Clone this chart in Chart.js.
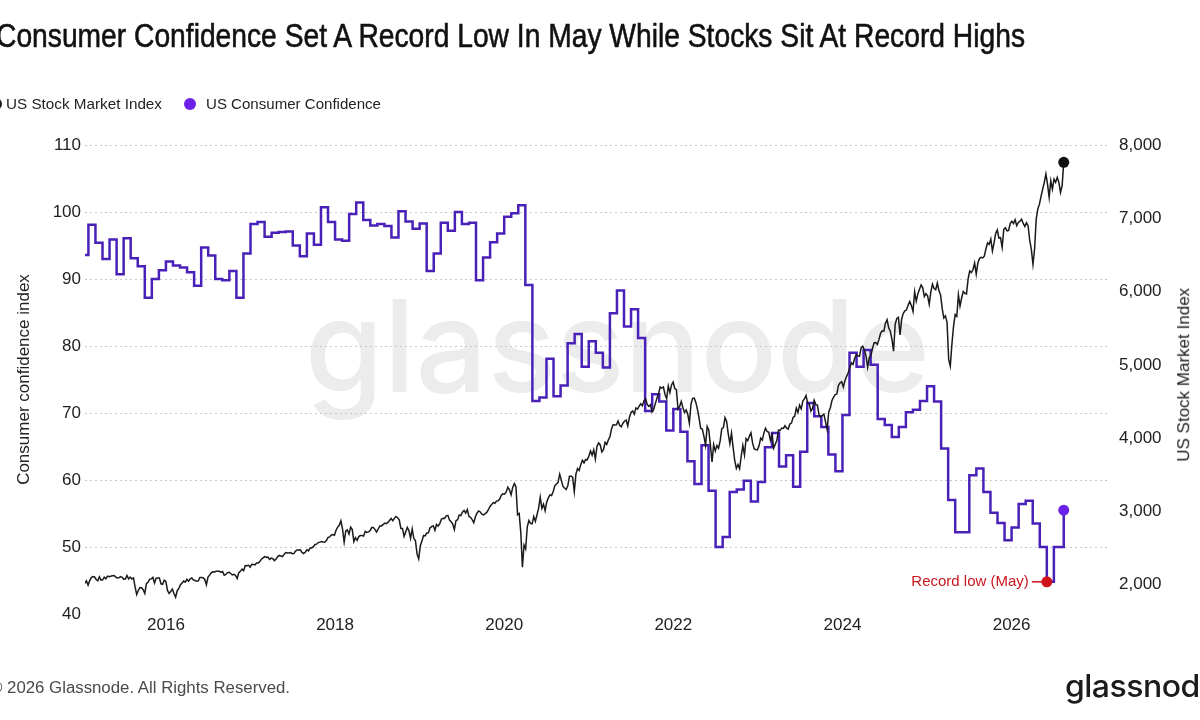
<!DOCTYPE html>
<html>
<head>
<meta charset="utf-8">
<title>Consumer Confidence vs US Stock Market Index</title>
<script src="https://cdn.jsdelivr.net/npm/chart.js@4.4.1/dist/chart.umd.min.js"></script>
<style>
  html, body { margin: 0; padding: 0; background: #ffffff; }
  #wrap { position: relative; width: 1200px; height: 720px; overflow: hidden; background: #ffffff;
          font-family: "Liberation Sans", Arial, sans-serif; }
  #chartBox { position: absolute; left: 0; top: 0; width: 1200px; height: 720px; }
  .txt { position: absolute; white-space: nowrap; line-height: 1.15; transform-origin: 0 0; }
  #title { left: -4px; font-size: 34px; color: #111111; font-family: "Liberation Sans", Arial, sans-serif;
           -webkit-text-stroke: 0.6px #111111; }
  .legTxt { font-size: 15px; color: #222222; }
  .dot { position: absolute; width: 12px; height: 12px; border-radius: 50%; }
  #footer { left: -10px; font-size: 16px; color: #4a4a4a; }
  #logo { left: 1065px; font-size: 31px; color: #1b1b1b; font-family: Inter, "Noto Sans", sans-serif; font-weight: 500; letter-spacing: -0.5px; }
  #rTitle { font-size: 17px; color: #222222; transform-origin: 50% 50%; }
</style>
</head>
<body>
<div id="wrap">
  <div id="chartBox"><canvas id="c"></canvas></div>
  <div id="title" class="txt">Consumer Confidence Set A Record Low In May While Stocks Sit At Record Highs</div>
  <div class="dot" style="left:-10px; top:98px; background:#1a1a1a;"></div>
  <div id="leg1" class="txt legTxt">US Stock Market Index</div>
  <div class="dot" style="left:184px; top:98px; background:#6a22e8;"></div>
  <div id="leg2" class="txt legTxt">US Consumer Confidence</div>
  <div id="rTitle" class="txt">US Stock Market Index</div>
  <div id="footer" class="txt">© 2026 Glassnode. All Rights Reserved.</div>
  <div id="logo" class="txt">glassnode</div>
</div>
<script>
// ---------------- DATA ----------------
// University of Michigan-style consumer confidence, monthly, Dec 2014 .. Jul 2026
const consumerValues = [
  93.6,
  98.1, 95.4, 93.0, 95.9, 90.7, 96.1, 93.1, 91.9, 87.2, 90.0, 91.3, 92.6,   // 2015
  92.0, 91.7, 91.0, 89.0, 94.7, 93.5, 90.0, 89.8, 91.2, 87.2, 93.8, 98.2,   // 2016
  98.5, 96.3, 96.9, 97.0, 97.1, 95.0, 93.4, 96.8, 95.1, 100.7, 98.5, 95.9,  // 2017
  95.7, 99.7, 101.4, 98.8, 98.0, 98.2, 97.9, 96.2, 100.1, 98.6, 97.5, 98.3, // 2018
  91.2, 93.8, 98.4, 97.2, 100.0, 98.2, 98.4, 89.8, 93.2, 95.5, 96.8, 99.3,  // 2019
  99.8, 101.0, 89.1, 71.8, 72.3, 78.1, 72.5, 74.1, 80.4, 81.8, 76.9, 80.7,  // 2020
  79.0, 76.8, 84.9, 88.3, 82.9, 85.5, 81.2, 70.3, 72.8, 71.7, 67.4, 70.6,   // 2021
  67.2, 62.8, 59.4, 65.2, 58.4, 50.0, 51.5, 58.2, 58.6, 59.9, 56.8, 59.7,   // 2022
  64.9, 67.0, 62.0, 63.7, 59.0, 64.2, 71.5, 69.5, 67.9, 63.8, 61.3, 69.7,   // 2023
  79.0, 76.9, 79.4, 77.2, 69.1, 68.2, 66.4, 67.9, 70.1, 70.5, 71.8, 74.0,   // 2024
  71.7, 64.7, 57.0, 52.2, 52.2, 60.7, 61.7, 58.2, 55.1, 53.6, 51.0, 52.9,   // 2025
  56.4, 56.9, 53.5, 50.0, 44.8, 50.0, 55.5                                  // 2026
];
const consumerFirstDate = 2015.0;          // Dec 2014 reading, stamped at month end

// US stock market index, weekly (Fridays), from 16 Jan 2015
const stockFirstDate = 2015.041;
const stockValues = [
  // 2015
  2019,2051,1995, 2055,2097,2110,2105, 2071,2053,2108,2061, 2067,2102,2081,2117,
  2108,2116,2123,2126,2107, 2092,2094,2110,2101, 2076,2077,2126,2079,2104,
  2078,2092,1971,1867, 1921,1961,1958,1931, 1882,2014,2033,2075,2079,
  2099,2023,2089,2090, 2091,2012,2005,2060,
  // 2016
  2044,1922,1880,1907,1940, 1880,1829,1918,1948, 2000,2022,2050,2035,
  2073,2048,2081,2091,2065, 2057,2047,2052,2099, 2099,2096,2071,2000,
  2103,2130,2162,2175,2174, 2183,2184,2184,2169, 2180,2128,2139,2165,2168,
  2153,2133,2141,2126, 2085,2164,2182,2213, 2192,2260,2258,2264,2239,
  // 2017
  2277,2275,2271,2295, 2297,2316,2351,2367, 2384,2373,2378,2344,2363,
  2355,2329,2349,2384, 2399,2391,2382,2416, 2439,2432,2433,2438,2423,
  2425,2459,2473,2472, 2477,2441,2426,2443, 2477,2461,2500,2502,2519,
  2549,2553,2575,2581, 2588,2582,2579,2602, 2642,2652,2675,2683,2674,
  // 2018
  2743,2786,2810,2873, 2762,2581,2732,2747, 2691,2786,2752,2588,2641,
  2604,2656,2670,2670, 2663,2728,2713,2721, 2735,2779,2780,2755,2718,
  2760,2801,2802,2819, 2840,2833,2850,2875,2902, 2872,2905,2930,2914,
  2886,2767,2768,2659, 2723,2781,2736,2633,2760, 2633,2600,2417,2351,
  // 2019
  2532,2596,2671,2665, 2707,2708,2776,2793, 2804,2743,2822,2801,2834,
  2893,2907,2905,2940, 2946,2881,2860,2826,2752, 2873,2887,2950,2942,
  2990,3014,2977,3026, 2932,2919,2889,2847,2926, 2979,3007,2992,2962,
  2952,2970,2986,3023, 3067,3093,3120,3111,3141, 3146,3169,3221,3240,
  // 2020
  3235,3265,3330,3295,3225, 3328,3380,3338,2954, 2972,2711,2237,2541,
  2489,2790,2875,2837, 2831,2930,2864,2955,3044, 3194,3041,3098,3009,
  3130,3185,3224,3216,3271, 3351,3373,3397,3508, 3427,3341,3319,3298,
  3348,3477,3483,3465,3270, 3509,3585,3558,3638, 3699,3663,3709,3703,
  // 2021
  3756,3825,3768,3841,3714, 3887,3934,3907,3811, 3842,3943,3913,3975,
  4020,4129,4185,4180,4181, 4233,4174,4156,4204, 4230,4247,4166,4281,
  4352,4370,4327,4412,4395, 4437,4468,4442,4509, 4535,4459,4433,4455,
  4357,4391,4471,4545,4605, 4697,4683,4698,4595, 4538,4712,4620,4726,4766,
  // 2022
  4677,4662,4398,4432, 4500,4418,4349,4385, 4329,4204,4463,4543,
  4546,4488,4392,4272,4132, 4123,4023,3901,4158, 4109,3901,3675,3912,
  3825,3899,3863,3962,4130, 4145,4280,4228,4058, 3924,4067,3873,3693,3586,
  3640,3583,3753,3901, 3771,3993,3965,4026, 4072,3934,3852,3845,3840,
  // 2023
  3895,3999,3973,4071, 4136,4090,4079,3970, 4045,3862,3917,3971,4109,
  4105,4138,4133,4169, 4136,4124,4192,4205, 4282,4299,4410,4348,4450,
  4399,4505,4536,4582, 4478,4464,4370,4406, 4516,4457,4450,4320,4288,
  4308,4328,4224,4117, 4358,4415,4514,4559, 4595,4604,4719,4755,4770,
  // 2024
  4697,4784,4840,4891, 4959,5027,5006,5089, 5137,5124,5117,5234,5254,
  5204,5123,4967,5100, 5128,5223,5303,5305,5278, 5347,5432,5465,5460,
  5567,5615,5505,5459, 5346,5186,5554,5634,5648, 5408,5626,5703,5738,
  5751,5815,5864,5808, 5729,5996,5870,5969,6032, 6090,6051,5931,5971,
  // 2025
  5942,5827,5997,6101,6041, 6026,6115,6013,5955, 5770,5639,5668,5581,
  5074,4982,5283,5525, 5686,5660,5958,5802,5912, 6000,5977,5968,6173,
  6280,6260,6297,6389, 6238,6389,6450,6467,6460, 6482,6584,6664,6644,
  6716,6553,6664,6792,6840, 6729,6734,6603,6849, 6870,6827,6834,6930,
  // 2026
  6960,6930,6980,6900,6943, 6960,6988,6930,6888, 6940,6900,6700,6580,
  6373,6578,6988,7125, 7193,7300,7398,7490,7603, 7467,7285,7512,7398,
  7535,7490,7558,7490,7353, 7443,7763
];

// Axis ticks
const xTickYears   = [2016, 2018, 2020, 2022, 2024, 2026];
const leftTicks    = [40, 50, 60, 70, 80, 90, 100, 110];
const rightTicks   = [2000, 3000, 4000, 5000, 6000, 7000, 8000];
const recordLowText = 'Record low (May)';

// ---------------- BUILD POINTS ----------------
const WEEK = 7 / 365.25;
const stockPts = stockValues.map((v, i) => ({ x: stockFirstDate + i * WEEK, y: v }));
const latestDate = stockPts[stockPts.length - 1].x;
const consumerPts = consumerValues.map((v, k) => ({
  x: k === consumerValues.length - 1 ? latestDate : consumerFirstDate + k / 12,
  y: v
}));
let minIdx = 0;
consumerValues.forEach((v, i) => { if (v < consumerValues[minIdx]) minIdx = i; });

const FONT = "'Liberation Sans', Arial, sans-serif";
Chart.defaults.font.family = FONT;

const overlayPlugin = {
  id: 'overlay',
  beforeDraw(chart) {
    const ctx = chart.ctx;
    ctx.save();
    ctx.fillStyle = '#ececec';
    ctx.font = "500 128px Inter, Lato, 'Noto Sans', sans-serif";
    ctx.textBaseline = 'alphabetic';
    const txt = 'glassnode';
    const w = ctx.measureText(txt).width;
    const target = 625;
    ctx.translate(305, 392);
    ctx.scale(target / w, 1);
    ctx.fillText(txt, 0, 0);
    ctx.restore();
  },
  afterDatasetsDraw(chart) {
    const meta = chart.getDatasetMeta(4);
    const p = meta.data[0];
    if (!p) return;
    const ctx = chart.ctx;
    ctx.save();
    ctx.strokeStyle = '#c8161d';
    ctx.lineWidth = 1.5;
    ctx.beginPath();
    ctx.moveTo(p.x - 15, p.y);
    ctx.lineTo(p.x - 3, p.y);
    ctx.stroke();
    ctx.fillStyle = '#c8161d';
    ctx.font = "15px " + FONT;
    ctx.textAlign = 'right';
    ctx.textBaseline = 'middle';
    ctx.fillText(recordLowText, p.x - 18, p.y);
    ctx.restore();
  }
};

new Chart(document.getElementById('c'), {
  type: 'line',
  data: {
    datasets: [
      { label: 'US Stock Market Index', data: stockPts, yAxisID: 'yR',
        borderColor: '#1a1a1a', borderWidth: 1.5, pointRadius: 0, tension: 0, order: 0 },
      { label: 'US Consumer Confidence', data: consumerPts, yAxisID: 'yL',
        borderColor: '#4a21b8', borderWidth: 2.5, stepped: 'before', pointRadius: 0, order: 1 },
      { label: 'stock latest', data: [stockPts[stockPts.length - 1]], yAxisID: 'yR', showLine: false,
        pointRadius: 5.5, pointBackgroundColor: '#111111', pointBorderWidth: 0, order: -1 },
      { label: 'consumer latest', data: [consumerPts[consumerPts.length - 1]], yAxisID: 'yL', showLine: false,
        pointRadius: 5.5, pointBackgroundColor: '#6a22e8', pointBorderWidth: 0, order: -1 },
      { label: 'record low', data: [consumerPts[minIdx]], yAxisID: 'yL', showLine: false,
        pointRadius: 5.5, pointBackgroundColor: '#d0121b', pointBorderWidth: 0, order: -1 }
    ]
  },
  options: {
    responsive: true,
    maintainAspectRatio: false,
    animation: false,
    events: [],
    layout: { padding: { top: 145, left: 0, right: 0, bottom: 0 } },
    plugins: { legend: { display: false }, tooltip: { enabled: false }, title: { display: false } },
    scales: {
      x: {
        type: 'linear', min: 2015.043, max: 2027.14,
        afterBuildTicks: s => { s.ticks = xTickYears.map(v => ({ value: v })); },
        afterFit: s => { s.height = 106; },
        grid: { display: false, drawTicks: false },
        border: { display: false },
        ticks: { color: '#222222', font: { size: 17 }, padding: 1, maxRotation: 0, autoSkip: false,
                 callback: v => String(v) }
      },
      yL: {
        position: 'left', min: 40, max: 110,
        afterBuildTicks: s => { s.ticks = leftTicks.map(v => ({ value: v })); },
        afterFit: s => { s.width = 85; },
        grid: { drawTicks: false, lineWidth: 1,
                color: c => (c.tick && c.tick.value === 40) ? 'rgba(0,0,0,0)' : '#c8c8c8' },
        border: { display: false, dash: [2, 3] },
        ticks: { color: '#222222', font: { size: 17 }, padding: 4, callback: v => String(v) },
        title: { display: true, text: 'Consumer confidence index', color: '#222222',
                 font: { size: 17 }, padding: { top: 14, bottom: 0 } }
      },
      yR: {
        position: 'right', min: 1600, max: 8000,
        afterBuildTicks: s => { s.ticks = rightTicks.map(v => ({ value: v })); },
        afterFit: s => { s.width = 92; },
        grid: { display: false, drawTicks: false },
        border: { display: false },
        ticks: { color: '#222222', font: { size: 17 }, padding: 11,
                 callback: v => Number(v).toLocaleString('en-US') },
        title: { display: false }
      }
    }
  },
  plugins: [overlayPlugin]
});

// ---------------- HTML text placement ----------------
function place(id, left, centerY, targetWidth) {
  const el = document.getElementById(id);
  el.style.left = left + 'px';
  const r = el.getBoundingClientRect();
  el.style.top = (centerY - r.height / 2) + 'px';
  if (targetWidth) el.style.transform = 'scaleX(' + (targetWidth / r.width) + ')';
}
place('title', -4, 36, 1029);
place('leg1', 6, 104, 156);
place('leg2', 206, 104, 175);
place('footer', -10, 688, 300);
place('logo', 1065, 686, 153);

// right axis title, rotated to read bottom-to-top, centred at (1184, 375)
(function () {
  const el = document.getElementById('rTitle');
  const r = el.getBoundingClientRect();
  el.style.left = (1184 - r.width / 2) + 'px';
  el.style.top = (375 - r.height / 2) + 'px';
  el.style.transform = 'rotate(-90deg)';
})();
</script>
</body>
</html>
